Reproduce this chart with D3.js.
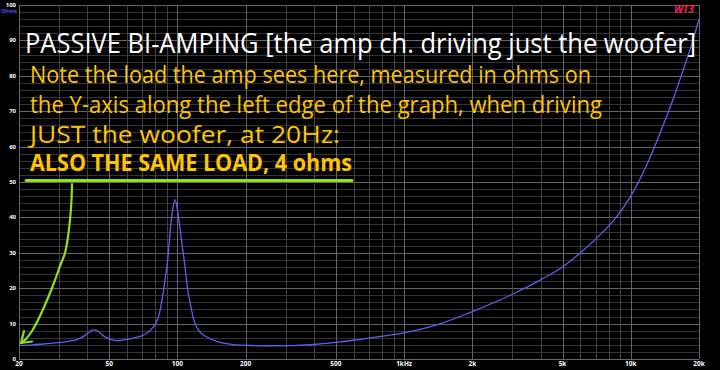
<!DOCTYPE html>
<meta charset="utf-8">
<head>
<style>
body{ margin:0; background:#000; }
svg text{ font-family:"Open Sans", "DejaVu Sans", sans-serif; }
</style>
<script src="https://cdnjs.cloudflare.com/ajax/libs/d3/7.8.5/d3.min.js"></script>
</head>
<body>
<div id="chart"></div>
<script>
// impedance curve (Hz, ohms)
var freqs = [20, 23, 26, 30, 33, 36, 39, 41, 42.7, 44.5, 47, 50, 54, 58, 64, 71, 76, 80, 83, 85.5, 88, 90.6, 93.3, 95.5, 97.5, 99.5, 102.4, 105, 108, 111, 113.7, 117.5, 125, 135, 150, 170, 190, 220, 260, 315, 400, 500, 600, 730, 1000, 1450, 2000, 2940, 3980, 5000, 6000, 7300, 8500, 10000, 11700, 13500, 15500, 17000, 18700, 20000];
var ohms  = [3.8, 4.0, 4.3, 4.6, 5.0, 5.5, 6.6, 7.7, 8.2, 7.9, 6.6, 5.7, 5.2, 5.4, 5.9, 6.8, 8.1, 10, 12.5, 16.7, 22, 28, 37.4, 42.5, 45, 43, 37.4, 32, 26, 19.5, 16, 11.5, 7.8, 6.2, 4.9, 4.2, 3.9, 3.8, 3.75, 3.8, 4.1, 4.7, 5.3, 6.1, 7.4, 10, 13.4, 18, 22.3, 26, 30, 35, 39.5, 46, 54.5, 64, 74, 81.5, 89.5, 96];

var yTicks = [0, 10, 20, 30, 40, 50, 60, 70, 80, 90, 100];
var xTicks = [20, 50, 100, 200, 500, 1000, 2000, 5000, 10000, 20000];
var xTickLabels = ["20", "50", "100", "200", "500", "1kHz", "2k", "5k", "10k", "20k"];

var captionLines = [
  "Note the load the amp sees here, measured in ohms on",
  "the Y-axis along the left edge of the graph, when driving",
  "JUST the woofer, at 20Hz:"
];
var captionBold = "ALSO THE SAME LOAD, 4 ohms";
var title = "PASSIVE BI-AMPING [the amp ch. driving just the woofer]";

var width = 720, height = 370;
var plotLeft = 19, plotRight = 699, plotTop = 5, plotBottom = 359;

var svg = d3.select("#chart").append("svg")
  .attr("width", width).attr("height", height)
  .style("background", "#000");

var x = d3.scaleLog().domain([20, 20000]).range([plotLeft, plotRight]);
var y = d3.scaleLinear().domain([0, 100]).range([plotBottom, plotTop]);

// minor grid positions: 20..90, 100..900, 1k..9k, 10k, 20k
var minorX = [];
[10, 100, 1000].forEach(function(d){
  for (var k = 2; k <= 10; k++){
    var v = d * k;
    if (v >= 20 && minorX.indexOf(v) < 0) minorX.push(v);
  }
});
minorX.push(20000);

var grid = svg.append("g");
grid.selectAll(".hmin").data(d3.range(0, 101, 2)).enter().append("line")
  .attr("x1", plotLeft).attr("x2", plotRight)
  .attr("y1", function(d){ return Math.round(y(d)) + 0.5; })
  .attr("y2", function(d){ return Math.round(y(d)) + 0.5; })
  .attr("stroke", function(d){ return d % 10 === 0 ? "#666" : "#343434"; });

grid.selectAll(".vmin").data(minorX).enter().append("line")
  .attr("y1", plotTop).attr("y2", plotBottom)
  .attr("x1", function(d){ return Math.round(x(d)) + 0.5; })
  .attr("x2", function(d){ return Math.round(x(d)) + 0.5; })
  .attr("stroke", function(d){ return xTicks.indexOf(d) > -1 ? "#666" : "#424242"; });

// axis labels
svg.append("g").selectAll("text").data(yTicks).enter().append("text")
  .attr("x", 16).attr("y", function(d){ return Math.max(y(d) + 2, 7); })
  .attr("text-anchor", "end")
  .attr("font-size", 6).attr("font-weight", "bold")
  .attr("fill", "#fff")
  .text(function(d){ return d; });

svg.append("text").attr("x", 9).attr("y", 12.5)
  .attr("text-anchor", "middle")
  .attr("font-size", 5.5).attr("font-weight", "bold")
  .attr("fill", "#4a4aff").text("Ohms");

svg.append("g").selectAll("text").data(xTicks).enter().append("text")
  .attr("x", function(d){ return x(d); }).attr("y", 366)
  .attr("text-anchor", "middle")
  .attr("font-size", 6.5).attr("font-weight", "bold")
  .attr("fill", "#fff")
  .text(function(d, i){ return xTickLabels[i]; });

// impedance curve
svg.append("clipPath").attr("id", "plotclip").append("rect")
  .attr("x", plotLeft).attr("y", plotTop)
  .attr("width", plotRight - plotLeft).attr("height", plotBottom - plotTop);

var line = d3.line()
  .x(function(d, i){ return x(freqs[i]); })
  .y(function(d){ return y(d); })
  .curve(d3.curveMonotoneX);

svg.append("path")
  .datum(ohms)
  .attr("clip-path", "url(#plotclip)")
  .attr("d", line)
  .attr("fill", "none")
  .attr("stroke", "#5f5ff0")
  .attr("stroke-width", 1.3);

// WT3 logo
svg.append("text").attr("x", 684).attr("y", 13)
  .attr("text-anchor", "middle")
  .attr("font-size", 10).attr("font-weight", "bold").attr("font-style", "italic")
  .attr("fill", "#ff1f5e").text("WT3");

// title and notes
svg.append("text").attr("x", 25).attr("y", 53)
  .attr("font-size", 27).attr("fill", "#fff")
  .attr("textLength", 671).attr("lengthAdjust", "spacingAndGlyphs")
  .text(title);

var capWidths = [561, 572, 310];
svg.append("g").selectAll("text").data(captionLines).enter().append("text")
  .attr("x", 30).attr("y", function(d, i){ return 83 + i * 30; })
  .attr("font-size", 23).attr("fill", "#ffc400")
  .attr("textLength", function(d, i){ return capWidths[i]; })
  .attr("lengthAdjust", "spacingAndGlyphs")
  .text(function(d){ return d; });

svg.append("text").attr("x", 30).attr("y", 171)
  .attr("font-size", 22.5).attr("font-weight", "bold").attr("fill", "#ffc400")
  .attr("textLength", 322).attr("lengthAdjust", "spacingAndGlyphs")
  .text(captionBold);

// green marker: underline and hand-drawn arrow
svg.append("line").attr("x1", 26).attr("x2", 352).attr("y1", 180.5).attr("y2", 180.5)
  .attr("stroke", "#8ee21a").attr("stroke-width", 3).attr("stroke-linecap", "round");

var arrowPts = [[72, 184], [71.5, 200], [70, 220], [67.5, 240], [65, 253], [60, 266], [56.5, 276], [52, 288], [47.5, 299], [40, 316], [32, 331], [26, 339], [21, 343]];
svg.append("path")
  .attr("d", d3.line().curve(d3.curveCatmullRom)(arrowPts))
  .attr("fill", "none").attr("stroke", "#8ee21a").attr("stroke-width", 2.2)
  .attr("stroke-linecap", "round");
svg.append("path")
  .attr("d", d3.line()([[24, 331], [21, 343], [32, 341.5]]))
  .attr("fill", "none").attr("stroke", "#8ee21a").attr("stroke-width", 2.2)
  .attr("stroke-linecap", "round").attr("stroke-linejoin", "round");
</script>
</body>
</html>
